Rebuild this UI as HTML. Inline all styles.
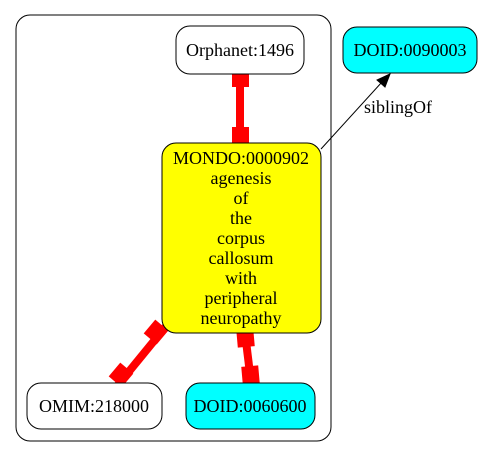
<!DOCTYPE html>
<html><head><style>body{margin:0;background:#fff}svg{display:block}</style></head>
<body>
<svg width="483" height="457" viewBox="0 0 483 457" xmlns="http://www.w3.org/2000/svg" font-family="Liberation Serif, serif" font-size="18">
<rect x="16" y="15" width="315" height="426" rx="14" fill="none" stroke="#000" stroke-width="1"/>
<g fill="red" stroke="red">
<line x1="240" y1="74" x2="240" y2="143" stroke-width="8"/>
<rect x="232" y="70" width="17" height="17" stroke="none"/>
<rect x="232" y="127" width="17" height="17" stroke="none"/>
<line x1="245" y1="333" x2="251" y2="382" stroke-width="8"/>
<rect x="237" y="329" width="17" height="18" stroke="none" transform="rotate(-5 245 338)"/>
<rect x="242" y="366" width="17" height="18" stroke="none" transform="rotate(-5 251 375)"/>
<line x1="167" y1="325" x2="118" y2="385" stroke-width="8"/>
<rect x="-8.5" y="-9" width="17" height="18" stroke="none" transform="translate(156 332) rotate(40)"/>
<rect x="-8.5" y="-9" width="17" height="18" stroke="none" transform="translate(121 375) rotate(40)"/>
</g>
<line x1="321" y1="149" x2="382" y2="82" stroke="#000" stroke-width="1"/>
<polygon points="390,74 377,80 385,87" fill="#000" stroke="#000"/>
<text x="364" y="113">siblingOf</text>
<rect x="176" y="26" width="128" height="48" rx="14" fill="#fff" stroke="#000"/>
<text x="240" y="56" text-anchor="middle">Orphanet:1496</text>
<rect x="343" y="27" width="134" height="46" rx="14" fill="#00ffff" stroke="#000"/>
<text x="410" y="56" text-anchor="middle">DOID:0090003</text>
<rect x="162" y="143" width="159" height="190" rx="14" fill="#ffff00" stroke="#000"/>
<g text-anchor="middle">
<text x="241" y="164">MONDO:0000902</text>
<text x="241" y="184">agenesis</text>
<text x="241" y="204">of</text>
<text x="241" y="224">the</text>
<text x="241" y="244">corpus</text>
<text x="241" y="264">callosum</text>
<text x="241" y="284">with</text>
<text x="241" y="304">peripheral</text>
<text x="241" y="324">neuropathy</text>
</g>
<rect x="27" y="383" width="135" height="46" rx="14" fill="#fff" stroke="#000"/>
<text x="94" y="412" text-anchor="middle">OMIM:218000</text>
<rect x="186" y="383" width="129" height="46" rx="14" fill="#00ffff" stroke="#000"/>
<text x="250" y="412" text-anchor="middle">DOID:0060600</text>
</svg>
</body></html>
